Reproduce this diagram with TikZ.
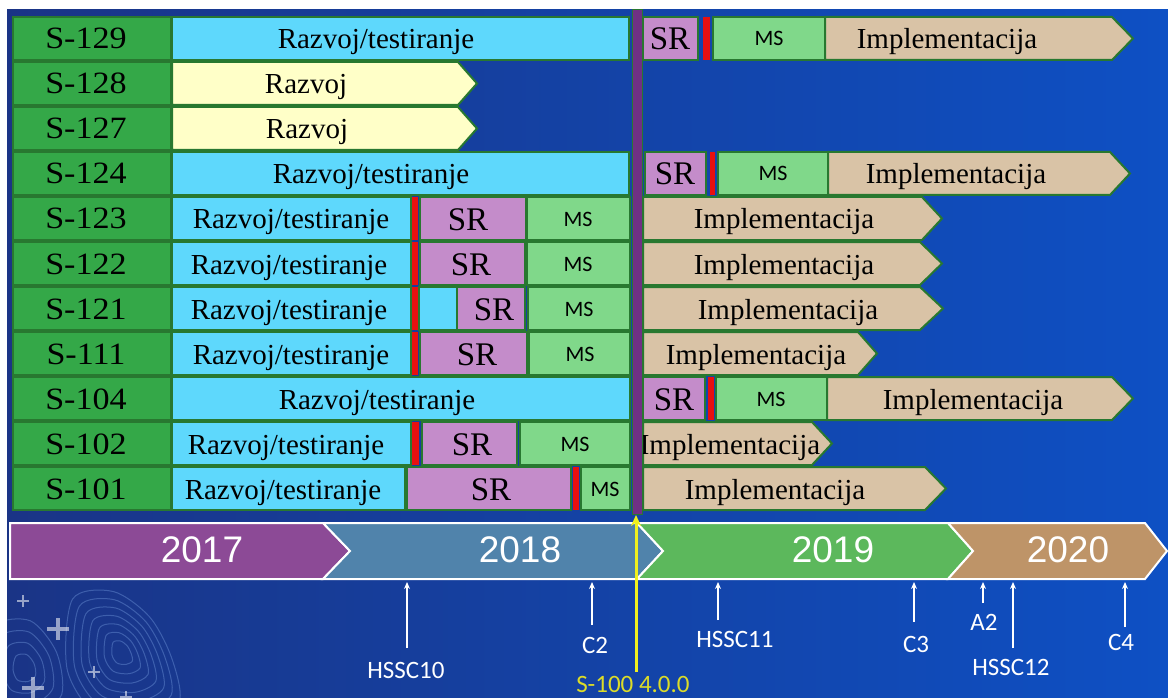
\documentclass[tikz,border=0pt]{standalone}
\usepackage{fontspec}
\setmainfont{Liberation Serif}
\newfontfamily\labf[FakeStretch=1.1]{Liberation Serif}
\newfontfamily\carl{Carlito}
\newfontfamily\lsans{Liberation Sans}
\usetikzlibrary{arrows.meta,calc}
\definecolor{bgL}{RGB}{26,52,134}
\definecolor{bgR}{RGB}{14,80,196}
\definecolor{dkg}{RGB}{40,120,48}
\definecolor{labg}{RGB}{52,168,72}
\definecolor{cyanb}{RGB}{94,216,252}
\definecolor{yelb}{RGB}{255,255,200}
\definecolor{srb}{RGB}{196,140,202}
\definecolor{msb}{RGB}{128,216,138}
\definecolor{impb}{RGB}{217,195,166}
\definecolor{redb}{RGB}{232,16,16}
\definecolor{vline}{RGB}{112,48,132}
\definecolor{yA}{RGB}{140,74,150}
\definecolor{yB}{RGB}{80,131,171}
\definecolor{yC}{RGB}{92,184,92}
\definecolor{yD}{RGB}{190,148,104}
\definecolor{ylw}{RGB}{240,240,30}
\definecolor{ylwt}{RGB}{220,220,40}
\definecolor{cont}{RGB}{130,170,235}
\tikzset{
  cell/.style={draw=dkg, line width=2pt},
  lab/.style={anchor=base, inner sep=0pt, font=\labf\fontsize{31}{31}\selectfont},
  ser/.style={anchor=base, inner sep=0pt, font=\fontsize{29}{29}\selectfont},
  srt/.style={anchor=base, inner sep=0pt, font=\fontsize{33}{33}\selectfont},
  mst/.style={anchor=base, inner sep=0pt, font=\carl\fontsize{22}{22}\selectfont},
  yrt/.style={anchor=base, inner sep=0pt, text=white, font=\lsans\fontsize{37}{37}\selectfont},
  mkt/.style={anchor=base, inner sep=0pt, text=white, font=\carl\fontsize{25}{25}\selectfont},
  mka/.style={draw=white, line width=2pt, -{Stealth[length=7pt,width=6pt]}},
  band/.style={draw=white, line width=2pt, line join=miter},
  contour/.style={draw=cont, opacity=0.35, line width=1pt},
  plus/.style={draw=white, opacity=0.55, line cap=butt},
}
\newcommand\rbox[4]{\path[cell,fill=#1] (#2,{17+45*#4}) rectangle (#3,{60+45*#4});}
\newcommand\rbar[3]{\fill[redb] (#1,{17+45*#3}) rectangle (#2,{60+45*#3});}
\newcommand\chev[5]{\path[cell,fill=#1] (#2,{17+45*#5}) -- (#3,{17+45*#5}) -- (#4,{38.5+45*#5}) -- (#3,{60+45*#5}) -- (#2,{60+45*#5}) -- cycle;}
\newcommand\plusmark[4]{\draw[plus,line width=#4] (#1-#3,#2) -- (#1+#3,#2) (#1,#2-#3) -- (#1,#2+#3);}
\begin{document}
\begin{tikzpicture}[x=1pt,y=-1pt]
\useasboundingbox (0,0) rectangle (1168,698);
\fill[white] (0,0) rectangle (1168,698);
\shade[left color=bgL, right color=bgR] (7,10) rectangle (1168,698);
% decorative contours and stars
\begin{scope}
\clip (7,10) rectangle (1168,698);
\foreach \s in {0.2,0.35,0.5,0.65,0.8,0.95,1.1}{
  \draw[contour,shift={(122,652)},scale=\s] plot[smooth cycle] coordinates {(-45,-48) (-8,-55) (25,-32) (45,5) (52,45) (20,62) (-25,55) (-50,15)};
}
\foreach \s in {0.3,0.55,0.8,1.05}{
  \draw[contour,shift={(25,668)},scale=\s] plot[smooth cycle] coordinates {(-30,-40) (5,-45) (30,-15) (35,25) (10,45) (-25,40) (-40,5)};
}
\plusmark{23}{601}{6}{2.5pt}
\plusmark{58}{629}{11}{3.5pt}
\plusmark{94}{672}{6}{2.5pt}
\plusmark{33}{688}{11}{3.5pt}
\plusmark{126}{697}{6}{2.5pt}
\end{scope}
% ---- row 0 : S-129
\rbox{labg}{13}{171}{0}
\rbox{cyanb}{172}{629}{0}
\rbox{srb}{643}{698}{0}
\rbar{703}{710}{0}
\rbox{msb}{713}{825}{0}
\chev{impb}{825}{1112}{1133}{0}
\node[lab] (n129) at (86,49) {S-129};
\node[ser] (rt129) at (376,49) {Razvoj/testiranje};
\node[srt] (sr129) at (670,50) {SR};
\node[mst] (ms129) at (769,46) {MS};
\node[ser] (im129) at (947,49) {Implementacija};
% ---- row 1 : S-128
\rbox{labg}{13}{171}{1}
\chev{yelb}{172}{458}{477}{1}
\node[lab] (n128) at (86,94) {S-128};
\node[ser] (rz128) at (306,94) {Razvoj};
% ---- row 2 : S-127
\rbox{labg}{13}{171}{2}
\chev{yelb}{172}{458}{477}{2}
\node[lab] (n127) at (86,139) {S-127};
\node[ser] (rz127) at (307,139) {Razvoj};
% ---- row 3 : S-124
\rbox{labg}{13}{171}{3}
\rbox{cyanb}{172}{629}{3}
\rbox{srb}{645}{706}{3}
\rbar{710}{715}{3}
\rbox{msb}{718}{828}{3}
\chev{impb}{828}{1110}{1130}{3}
\node[lab] (n124) at (86,184) {S-124};
\node[ser] (rt124) at (371,184) {Razvoj/testiranje};
\node[srt] (sr124) at (675,185) {SR};
\node[mst] (ms124) at (773,181) {MS};
\node[ser] (im124) at (956,184) {Implementacija};
% ---- row 4 : S-123
\rbox{labg}{13}{171}{4}
\rbox{cyanb}{172}{411}{4}
\rbox{srb}{420}{526}{4}
\rbar{412}{418}{4}
\rbox{msb}{527}{630}{4}
\chev{impb}{643}{922}{942}{4}
\node[lab] (n123) at (86,229) {S-123};
\node[ser] (rt123) at (291,229) {Razvoj/testiranje};
\node[srt] (sr123) at (468,230) {SR};
\node[mst] (ms123) at (578,226) {MS};
\node[ser] (im123) at (784,229) {Implementacija};
% ---- row 5 : S-122
\rbox{labg}{13}{171}{5}
\rbox{cyanb}{172}{411}{5}
\rbox{srb}{420}{525}{5}
\rbar{412}{418}{5}
\rbox{msb}{527}{630}{5}
\chev{impb}{643}{920}{942}{5}
\node[lab] (n122) at (86,274) {S-122};
\node[ser] (rt122) at (289,274) {Razvoj/testiranje};
\node[srt] (sr122) at (471,275) {SR};
\node[mst] (ms122) at (578,271) {MS};
\node[ser] (im122) at (784,274) {Implementacija};
% ---- row 6 : S-121
\rbox{labg}{13}{171}{6}
\rbox{cyanb}{172}{411}{6}
\rbox{cyanb}{419}{457}{6}
\rbox{srb}{457}{525}{6}
\rbar{412}{418}{6}
\rbox{msb}{528}{630}{6}
\chev{impb}{643}{920}{943}{6}
\node[lab] (n121) at (86,319) {S-121};
\node[ser] (rt121) at (289,319) {Razvoj/testiranje};
\node[srt] (sr121) at (494,320) {SR};
\node[mst] (ms121) at (579,316) {MS};
\node[ser] (im121) at (788,319) {Implementacija};
% ---- row 7 : S-111
\rbox{labg}{13}{171}{7}
\rbox{cyanb}{172}{411}{7}
\rbox{srb}{420}{527}{7}
\rbar{412}{418}{7}
\rbox{msb}{529}{630}{7}
\chev{impb}{643}{858}{877}{7}
\node[lab] (n111) at (86,364) {S-111};
\node[ser] (rt111) at (291,364) {Razvoj/testiranje};
\node[srt] (sr111) at (477,365) {SR};
\node[mst] (ms111) at (580,361) {MS};
\node[ser] (im111) at (756,364) {Implementacija};
% ---- row 8 : S-104
\rbox{labg}{13}{171}{8}
\rbox{cyanb}{172}{630}{8}
\rbox{srb}{643}{705}{8}
\rbar{708}{714}{8}
\rbox{msb}{716}{827}{8}
\chev{impb}{827}{1112}{1133}{8}
\node[lab] (n104) at (86,409) {S-104};
\node[ser] (rt104) at (377,409) {Razvoj/testiranje};
\node[srt] (sr104) at (674,410) {SR};
\node[mst] (ms104) at (771,406) {MS};
\node[ser] (im104) at (973,409) {Implementacija};
% ---- row 9 : S-102
\rbox{labg}{13}{171}{9}
\rbox{cyanb}{172}{411}{9}
\rbox{srb}{422}{517}{9}
\rbar{412}{419}{9}
\rbox{msb}{520}{630}{9}
\chev{impb}{643}{812}{832}{9}
\node[lab] (n102) at (86,454) {S-102};
\node[ser] (rt102) at (286,454) {Razvoj/testiranje};
\node[srt] (sr102) at (472,455) {SR};
\node[mst] (ms102) at (575,451) {MS};
\node[ser] (im102) at (730,454) {Implementacija};
% ---- row 10 : S-101
\rbox{labg}{13}{171}{10}
\rbox{cyanb}{172}{405}{10}
\rbox{srb}{407}{571}{10}
\rbar{573}{579}{10}
\rbox{msb}{581}{630}{10}
\chev{impb}{643}{925}{946}{10}
\node[lab] (n101) at (86,499) {S-101};
\node[ser] (rt101) at (283,499) {Razvoj/testiranje};
\node[srt] (sr101) at (491,500) {SR};
\node[mst] (ms101) at (605,496) {MS};
\node[ser] (im101) at (775,499) {Implementacija};
% ---- vertical divider
\path[draw=dkg, line width=1pt, fill=vline] (632,10) rectangle (642,514);
% ---- year band
\path[band, fill=yA] (10,523) -- (323,523) -- (350,551) -- (323,579) -- (10,579) -- cycle;
\path[band, fill=yB] (323,523) -- (637,523) -- (663,551) -- (637,579) -- (323,579) -- (350,551) -- cycle;
\path[band, fill=yC] (637,523) -- (948,523) -- (973,551) -- (948,579) -- (637,579) -- (663,551) -- cycle;
\path[band, fill=yD] (948,523) -- (1145,523) -- (1167,551) -- (1145,579) -- (948,579) -- (973,551) -- cycle;
\node[yrt] (y2017) at (202,562) {2017};
\node[yrt] (y2018) at (520,562) {2018};
\node[yrt] (y2019) at (833,562) {2019};
\node[yrt] (y2020) at (1068,562) {2020};
% ---- milestone arrows
\coordinate (h10t) at (407,582); \coordinate (h10b) at (407,648);
\coordinate (c2t) at (592,582);  \coordinate (c2b) at (592,625);
\coordinate (h11t) at (718,582); \coordinate (h11b) at (718,620);
\coordinate (c3t) at (914,582);  \coordinate (c3b) at (914,622);
\coordinate (a2t) at (983,582);  \coordinate (a2b) at (983,603);
\coordinate (h12t) at (1013,582); \coordinate (h12b) at (1013,648);
\coordinate (c4t) at (1125,582); \coordinate (c4b) at (1125,627);
\draw[mka] (h10b) -- (h10t);
\draw[mka] (c2b) -- (c2t);
\draw[mka] (h11b) -- (h11t);
\draw[mka] (c3b) -- (c3t);
\draw[mka] (a2b) -- (a2t);
\draw[mka] (h12b) -- (h12t);
\draw[mka] (c4b) -- (c4t);
\node[mkt] (lh10) at (406,678) {HSSC10};
\node[mkt] (lc2) at (595,653) {C2};
\node[mkt] (lh11) at (735,647) {HSSC11};
\node[mkt] (lc3) at (916,652) {C3};
\node[mkt] (la2) at (984,630) {A2};
\node[mkt] (lh12) at (1011,675) {HSSC12};
\node[mkt] (lc4) at (1121,650) {C4};
% ---- S-100 release arrow
\coordinate (yt) at (636,515); \coordinate (yb) at (636,672);
\draw[draw=ylw, line width=3pt, -{Stealth[length=11pt,width=10pt]}] (yb) -- (yt);
\node[mkt, text=ylwt] (s100) at (633,692) {S-100 4.0.0};
\end{tikzpicture}
\end{document}
